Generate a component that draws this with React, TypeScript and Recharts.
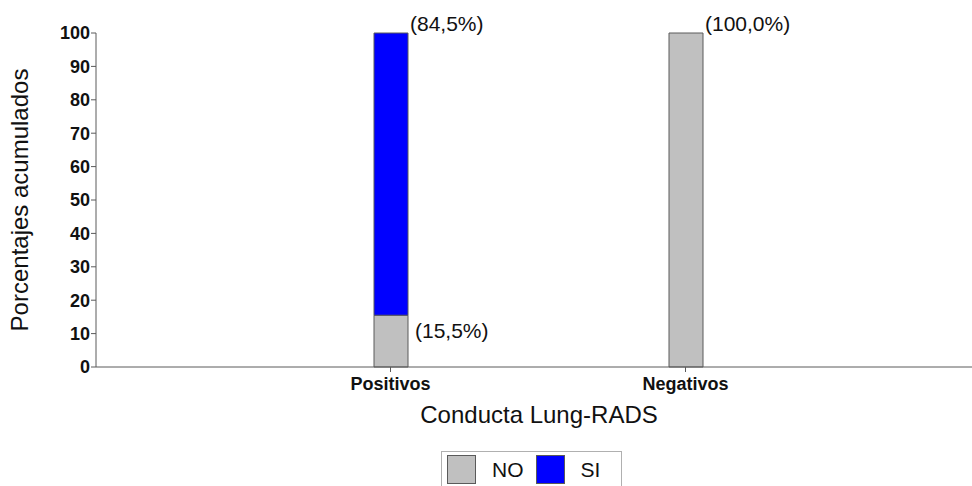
import React from 'react';
import { BarChart, Bar, XAxis, YAxis, LabelList, Label } from 'recharts';

const categories = ['Positivos', 'Negativos'];
const noValues = [15.5, 100];
const siValues = [84.5, 0];
const yTicks = [0, 10, 20, 30, 40, 50, 60, 70, 80, 90, 100];
const seriesNames = ['NO', 'SI'];

const GREY = '#c0c0c0';
const BLUE = '#0000ff';
const EDGE = '#5a5a5a';
const FONT = 'Arial, "Liberation Sans", sans-serif';

const data = categories.map((name, i) => ({ name, NO: noValues[i], SI: siValues[i] }));

const fmt = (v: number) => `(${v.toFixed(1).replace('.', ',')}%)`;

// label beside the segment: above-right when it is the top of the stack, inside-right otherwise
function makeLabel(key: 'NO' | 'SI') {
  return (props: any) => {
    const { x, y, width, index } = props;
    const v = key === 'NO' ? noValues[index] : siValues[index];
    if (!v) return null;
    const isTop = key === 'SI' || siValues[index] === 0;
    const tx = Number(x) + Number(width) + (isTop ? 2 : 7);
    const ty = Number(y) + (isTop ? -2 : 23);
    return (
      <text x={tx} y={ty} fontSize={21} fontFamily={FONT} fill="#111">
        {fmt(v)}
      </text>
    );
  };
}

function LegendBox() {
  const colors = [GREY, BLUE];
  return (
    <div
      style={{
        position: 'absolute',
        left: 441,
        top: 451,
        border: '1px solid #b0b0b0',
        width: 181,
        height: 40,
        boxSizing: 'border-box',
        display: 'flex',
        alignItems: 'flex-start',
        paddingLeft: 5,
        paddingTop: 3,
        fontFamily: FONT,
        fontSize: 21,
        color: '#111',
      }}
    >
      {seriesNames.map((n, i) => (
        <div key={n} style={{ display: 'flex', alignItems: 'center' }}>
          <div
            style={{
              width: 29,
              height: 29,
              background: colors[i],
              border: `1px solid ${EDGE}`,
              boxSizing: 'border-box',
            }}
          />
          <span style={{ marginLeft: 16, marginRight: 12, lineHeight: '29px' }}>{n}</span>
        </div>
      ))}
    </div>
  );
}

export default function App() {
  return (
    <div style={{ position: 'absolute', left: 0, top: 0, width: 972, height: 486, background: '#fff', overflow: 'hidden' }}>
      <BarChart
        width={972}
        height={486}
        data={data}
        margin={{ top: 33, right: 0, left: 0, bottom: 59 }}
        style={{ fontFamily: FONT }}
      >
        <XAxis
          dataKey="name"
          height={60}
          padding={{ left: 147, right: 139 }}
          stroke={EDGE}
          tickSize={5}
          tickMargin={5}
          tick={{ fontSize: 18, fontWeight: 'bold', fill: '#111', fontFamily: FONT }}
        >
          <Label
            content={({ viewBox }: any) => (
              <text
                x={viewBox.x + viewBox.width / 2 + 5}
                y={423}
                textAnchor="middle"
                fontSize={24}
                fontFamily={FONT}
                fill="#111"
              >
                Conducta Lung-RADS
              </text>
            )}
          />
        </XAxis>
        <YAxis
          width={96}
          domain={[0, 100]}
          ticks={yTicks}
          interval={0}
          stroke={EDGE}
          tickSize={5}
          tickMargin={1}
          tick={{ fontSize: 18, fontWeight: 'bold', fill: '#111', fontFamily: FONT }}
        >
          <Label
            content={({ viewBox }: any) => {
              const cy = viewBox.y + viewBox.height / 2;
              return (
                <text
                  x={28}
                  y={cy}
                  transform={`rotate(-90, 28, ${cy})`}
                  textAnchor="middle"
                  fontSize={24}
                  fontFamily={FONT}
                  fill="#111"
                >
                  Porcentajes acumulados
                </text>
              );
            }}
          />
        </YAxis>
        <Bar dataKey="NO" stackId="a" fill={GREY} stroke={EDGE} strokeWidth={1} barSize={34} isAnimationActive={false}>
          <LabelList dataKey="NO" content={makeLabel('NO')} />
        </Bar>
        <Bar dataKey="SI" stackId="a" fill={BLUE} stroke={EDGE} strokeWidth={1} barSize={34} isAnimationActive={false}>
          <LabelList dataKey="SI" content={makeLabel('SI')} />
        </Bar>
      </BarChart>
      <LegendBox />
    </div>
  );
}
